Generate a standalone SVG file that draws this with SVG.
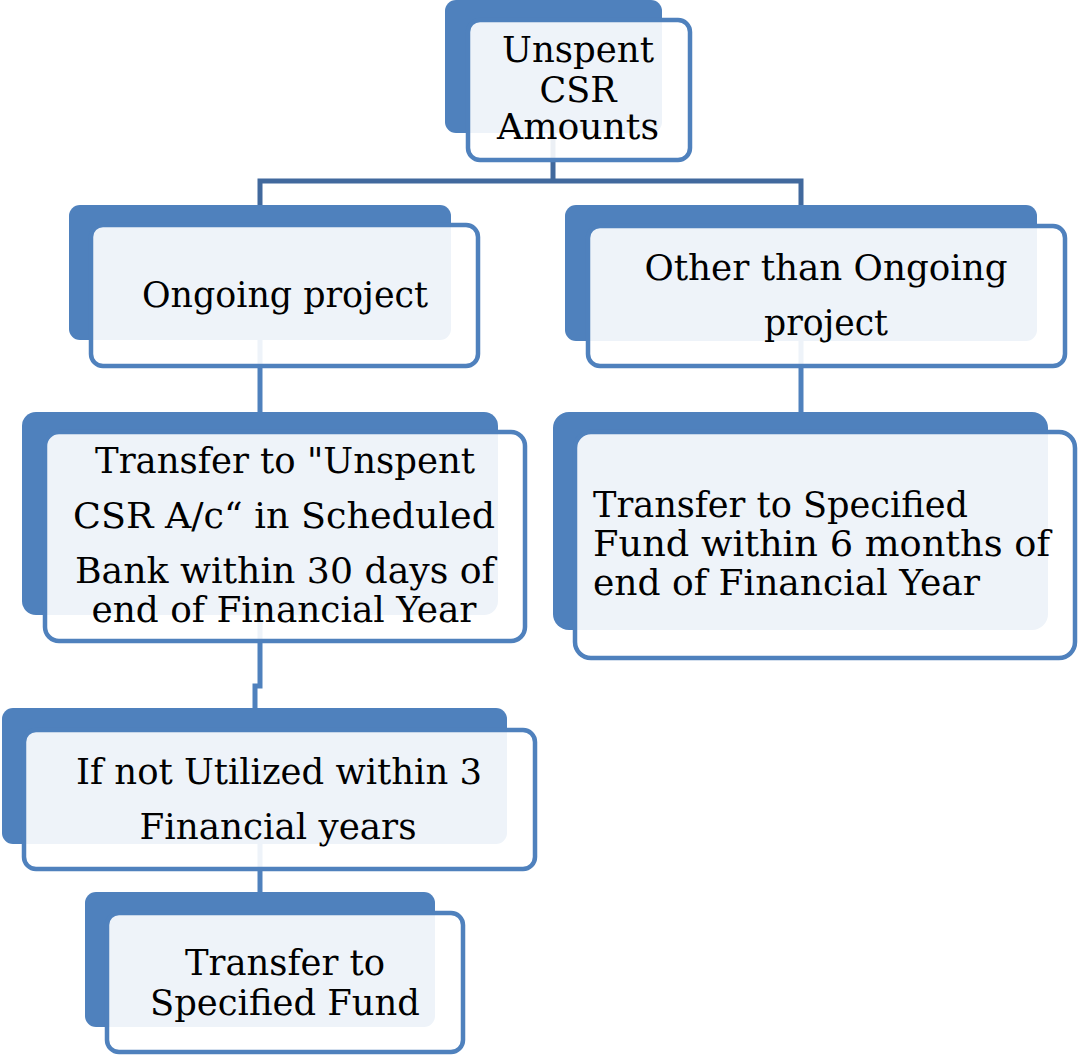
<svg xmlns="http://www.w3.org/2000/svg" width="1078" height="1055" viewBox="0 0 1078 1055">
  <style>
    .back { fill: #4F81BD; }
    .front { fill: #FFFFFF; fill-opacity: 0.9; stroke: #4F81BD; stroke-width: 4.5; }
    .lbl { font-family: "DejaVu Serif", "Liberation Serif", serif; font-size: 35px; fill: #000000; }
    .mid { text-anchor: middle; }
    .conn { fill: none; stroke-width: 5; }
    .trunk { stroke: #41699D; }
    .branch { stroke: #4F81BD; }
  </style>
  <rect width="1078" height="1055" fill="#FFFFFF"/>

  <!-- connectors sit underneath the cards so they show faintly through the front panels -->
  <g id="connectors">
    <path class="conn trunk" d="M553 133 V181 M260 205 V181 H801 V205"/>
    <path class="conn branch" d="M260 340 V412"/>
    <path class="conn branch" d="M801 341 V412"/>
    <path class="conn branch" d="M260 615 V686 H255 V708"/>
    <path class="conn branch" d="M260 844 V892"/>
  </g>

  <g id="unspent">
    <rect class="back" x="445" y="0" width="217" height="133" rx="11"/>
    <rect class="front" x="468" y="20" width="222" height="140" rx="12"/>
    <text class="lbl mid" x="578" y="62" textLength="152" lengthAdjust="spacingAndGlyphs">Unspent</text>
    <text class="lbl mid" x="578" y="102" textLength="77" lengthAdjust="spacingAndGlyphs">CSR</text>
    <text class="lbl mid" x="578" y="139" textLength="162" lengthAdjust="spacingAndGlyphs">Amounts</text>
  </g>

  <g id="ongoing">
    <rect class="back" x="69" y="205" width="382" height="135" rx="11"/>
    <rect class="front" x="91" y="225" width="387" height="141" rx="12"/>
    <text class="lbl mid" x="285" y="307" textLength="286" lengthAdjust="spacingAndGlyphs">Ongoing project</text>
  </g>

  <g id="other">
    <rect class="back" x="565" y="205" width="472" height="136" rx="11"/>
    <rect class="front" x="588" y="226" width="477" height="140" rx="12"/>
    <text class="lbl mid" x="826" y="280" textLength="363" lengthAdjust="spacingAndGlyphs">Other than Ongoing</text>
    <text class="lbl mid" x="826" y="335" textLength="124" lengthAdjust="spacingAndGlyphs">project</text>
  </g>

  <g id="unspent-account">
    <rect class="back" x="22" y="412" width="476" height="203" rx="14"/>
    <rect class="front" x="45" y="432" width="480" height="209" rx="14"/>
    <text class="lbl mid" x="285" y="473" textLength="380" lengthAdjust="spacingAndGlyphs">Transfer to "Unspent</text>
    <text class="lbl mid" x="284" y="528" textLength="422" lengthAdjust="spacingAndGlyphs">CSR A/c“ in Scheduled</text>
    <text class="lbl mid" x="285" y="583" textLength="420" lengthAdjust="spacingAndGlyphs">Bank within 30 days of</text>
    <text class="lbl mid" x="284" y="622" textLength="385" lengthAdjust="spacingAndGlyphs">end of Financial Year</text>
  </g>

  <g id="specified-fund-6m">
    <rect class="back" x="553" y="412" width="495" height="218" rx="16"/>
    <rect class="front" x="575" y="432" width="500" height="226" rx="16"/>
    <text class="lbl" x="593" y="517" textLength="375" lengthAdjust="spacingAndGlyphs">Transfer to Specified</text>
    <text class="lbl" x="593" y="556" textLength="457" lengthAdjust="spacingAndGlyphs">Fund within 6 months of</text>
    <text class="lbl" x="593" y="595" textLength="387" lengthAdjust="spacingAndGlyphs">end of Financial Year</text>
  </g>

  <g id="not-utilized">
    <rect class="back" x="2" y="708" width="505" height="136" rx="11"/>
    <rect class="front" x="24" y="730" width="511" height="139" rx="12"/>
    <text class="lbl mid" x="279" y="784" textLength="406" lengthAdjust="spacingAndGlyphs">If not Utilized within 3</text>
    <text class="lbl mid" x="278" y="839" textLength="277" lengthAdjust="spacingAndGlyphs">Financial years</text>
  </g>

  <g id="specified-fund">
    <rect class="back" x="85" y="892" width="350" height="135" rx="11"/>
    <rect class="front" x="107" y="913" width="356" height="139" rx="12"/>
    <text class="lbl mid" x="285" y="975" textLength="200" lengthAdjust="spacingAndGlyphs">Transfer to</text>
    <text class="lbl mid" x="285" y="1015" textLength="270" lengthAdjust="spacingAndGlyphs">Specified Fund</text>
  </g>
</svg>
